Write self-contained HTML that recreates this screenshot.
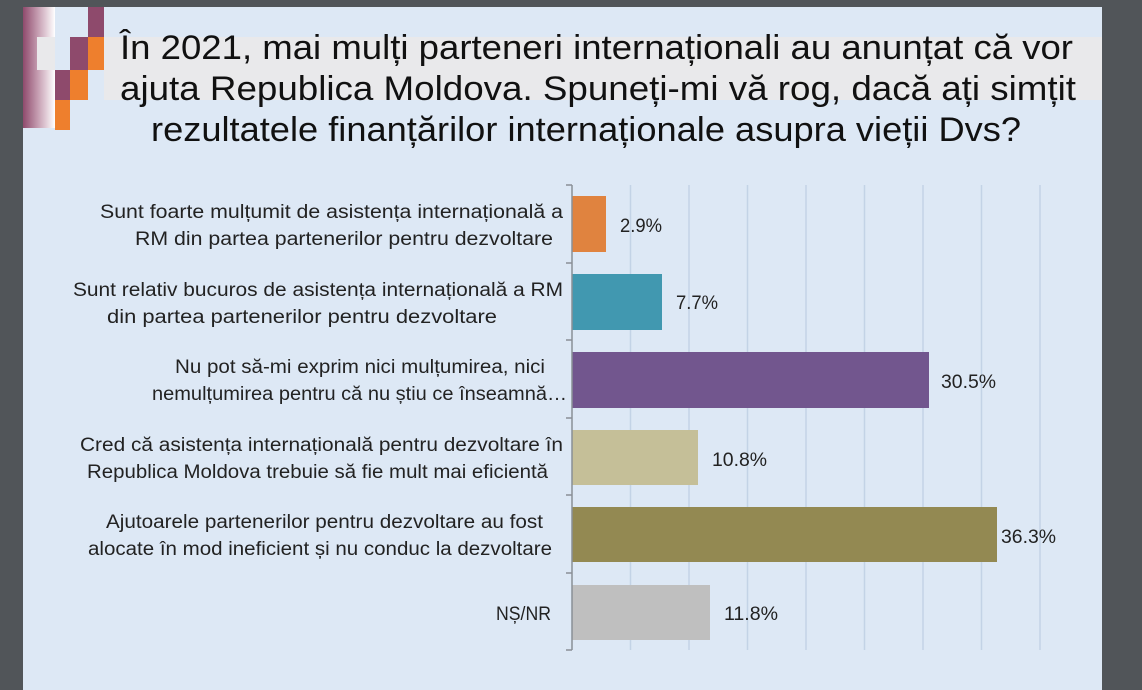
<!DOCTYPE html>
<html><head><meta charset="utf-8"><style>
html,body{margin:0;padding:0;background:#515559;}
svg{display:block;font-family:"Liberation Sans",sans-serif;}
</style></head><body>
<svg width="1142" height="690" viewBox="0 0 1142 690" xmlns="http://www.w3.org/2000/svg">
<defs><linearGradient id="g" x1="0" x2="1"><stop offset="0" stop-color="#8e4a6c"/><stop offset="0.5" stop-color="#c9a3b6"/><stop offset="1" stop-color="#ffffff"/></linearGradient></defs>
<rect x="0" y="0" width="1142" height="690" fill="#515559"/>
<rect x="23" y="7" width="1079" height="683" fill="#dde8f5"/>
<rect x="104" y="37" width="998" height="63" fill="#e9e9eb"/>
<rect x="23" y="7" width="32" height="121" fill="url(#g)"/>
<rect x="37" y="37" width="18" height="33" fill="#e9e9eb"/>
<rect x="88" y="7" width="16" height="30" fill="#8e4a6c"/>
<rect x="70" y="37" width="18" height="33" fill="#8e4a6c"/>
<rect x="88" y="37" width="16" height="33" fill="#ee7f2d"/>
<rect x="55" y="70" width="15" height="30" fill="#8e4a6c"/>
<rect x="70" y="70" width="18" height="30" fill="#ee7f2d"/>
<rect x="55" y="100" width="15" height="30" fill="#ee7f2d"/>
<g font-size="34" fill="#111">
<text x="120" y="59" textLength="953" lengthAdjust="spacingAndGlyphs">În 2021, mai mulți parteneri internaționali au anunțat că vor</text>
<text x="120" y="100" textLength="956" lengthAdjust="spacingAndGlyphs">ajuta Republica Moldova. Spuneți-mi vă rog, dacă ați simțit</text>
<text x="151" y="141" textLength="870" lengthAdjust="spacingAndGlyphs">rezultatele finanțărilor internaționale asupra vieții Dvs?</text>
</g>
<g stroke="#c3d3e6" stroke-width="1.5">
<line x1="630.5" y1="185" x2="630.5" y2="650"/><line x1="689" y1="185" x2="689" y2="650"/>
<line x1="747.5" y1="185" x2="747.5" y2="650"/><line x1="806" y1="185" x2="806" y2="650"/>
<line x1="864.5" y1="185" x2="864.5" y2="650"/><line x1="923" y1="185" x2="923" y2="650"/>
<line x1="981.5" y1="185" x2="981.5" y2="650"/><line x1="1040" y1="185" x2="1040" y2="650"/>
</g>
<rect x="572" y="196" width="34" height="56" fill="#e0833f"/>
<rect x="572" y="274" width="90" height="56" fill="#4198b0"/>
<rect x="572" y="352" width="357" height="56" fill="#72568e"/>
<rect x="572" y="430" width="126" height="55" fill="#c5bf98"/>
<rect x="572" y="507" width="425" height="55" fill="#938952"/>
<rect x="572" y="585" width="138" height="55" fill="#bfbfbf"/>
<g stroke="#8a8f96" stroke-width="1.5">
<line x1="572" y1="185" x2="572" y2="650"/>
<line x1="566" y1="185" x2="572" y2="185"/><line x1="566" y1="263" x2="572" y2="263"/>
<line x1="566" y1="340" x2="572" y2="340"/><line x1="566" y1="418" x2="572" y2="418"/>
<line x1="566" y1="495" x2="572" y2="495"/><line x1="566" y1="573" x2="572" y2="573"/>
<line x1="566" y1="650" x2="572" y2="650"/>
</g>
<g font-size="19" fill="#222" lengthAdjust="spacingAndGlyphs">
<text x="100" y="218" textLength="463" lengthAdjust="spacingAndGlyphs">Sunt foarte mulțumit de asistența internațională a</text>
<text x="135" y="245" textLength="418" lengthAdjust="spacingAndGlyphs">RM din partea partenerilor pentru dezvoltare</text>
<text x="73" y="296" textLength="490" lengthAdjust="spacingAndGlyphs">Sunt relativ bucuros de asistența internațională a RM</text>
<text x="107" y="323" textLength="390" lengthAdjust="spacingAndGlyphs">din partea partenerilor pentru dezvoltare</text>
<text x="175" y="373" textLength="370" lengthAdjust="spacingAndGlyphs">Nu pot să-mi exprim nici mulțumirea, nici</text>
<text x="152" y="400" textLength="415" lengthAdjust="spacingAndGlyphs">nemulțumirea pentru că nu știu ce înseamnă…</text>
<text x="80" y="451" textLength="483" lengthAdjust="spacingAndGlyphs">Cred că asistența internațională pentru dezvoltare în</text>
<text x="87" y="478" textLength="461" lengthAdjust="spacingAndGlyphs">Republica Moldova trebuie să fie mult mai eficientă</text>
<text x="106" y="528" textLength="437" lengthAdjust="spacingAndGlyphs">Ajutoarele partenerilor pentru dezvoltare au fost</text>
<text x="88" y="555" textLength="464" lengthAdjust="spacingAndGlyphs">alocate în mod ineficient și nu conduc la dezvoltare</text>
<text x="496" y="620" textLength="55" lengthAdjust="spacingAndGlyphs">NȘ/NR</text>
</g>
<g font-size="19" fill="#222">
<text x="620" y="232" textLength="42" lengthAdjust="spacingAndGlyphs">2.9%</text>
<text x="676" y="309" textLength="42" lengthAdjust="spacingAndGlyphs">7.7%</text>
<text x="941" y="388" textLength="55" lengthAdjust="spacingAndGlyphs">30.5%</text>
<text x="712" y="466" textLength="55" lengthAdjust="spacingAndGlyphs">10.8%</text>
<text x="1001" y="543" textLength="55" lengthAdjust="spacingAndGlyphs">36.3%</text>
<text x="724" y="620" textLength="54" lengthAdjust="spacingAndGlyphs">11.8%</text>
</g>
</svg>
</body></html>
